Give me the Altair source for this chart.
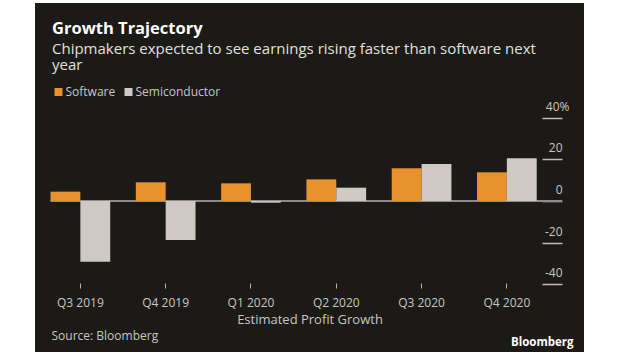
import altair as alt
import pandas as pd

# ---- data ----
quarters = ["Q3 2019", "Q4 2019", "Q1 2020", "Q2 2020", "Q3 2020", "Q4 2020"]
series_names = ["Software", "Semiconductor"]
software = [4.5, 9.0, 8.5, 10.4, 15.7, 13.8]
semiconductor = [-29.2, -18.7, -0.8, 6.4, 17.8, 20.5]
y_ticks = [-40, -20, 0, 20, 40]
series_colors = ["#E8912F", "#CEC9C3"]

rows = []
for q, s, c in zip(quarters, software, semiconductor):
    rows.append({"quarter": q, "series": "Software", "value": s})
    rows.append({"quarter": q, "series": "Semiconductor", "value": c})
df = pd.DataFrame(rows)

FONT = "Open Sans"
BG = "#1B1A17"
TXT = "#C8C6C2"

x_scale = alt.Scale(domain=quarters, paddingInner=0.3, paddingOuter=0.368, align=0.247)
y_scale = alt.Scale(domain=[-72.6, 95.2], nice=False, zero=False)

x_axis = alt.Axis(
    title="Estimated Profit Growth", labelAngle=0, offset=-69, domain=False, grid=False,
    tickSize=5, tickColor="#B4B2AE", tickWidth=1, labelPadding=9,
    labelFont=FONT, labelFontSize=12, labelColor=TXT,
    titleFont=FONT, titleFontSize=13, titleFontWeight="normal", titleColor=TXT,
    titleBaseline="alphabetic", titleY=40,
)

bars = alt.Chart(df).mark_bar().encode(
    x=alt.X("quarter:N", sort=quarters, scale=x_scale, axis=x_axis),
    xOffset=alt.XOffset("series:N", sort=series_names),
    y=alt.Y(
        "value:Q", scale=y_scale,
        axis=alt.Axis(
            orient="right", offset=-42, values=y_ticks, domain=False, grid=False,
            tickSize=20, tickColor="#BDBBB7", tickWidth=1.5,
            labelAlign="right", labelBaseline="alphabetic", labelOffset=-7.5,
            labelPadding=alt.condition("datum.value == 40", alt.value(7), alt.value(0)),
            labelExpr="datum.value == 40 ? '40%' : (datum.value < 0 ? '-' + abs(datum.value) : datum.label)",
            labelFont=FONT, labelFontSize=12, labelColor=TXT,
            title="Source: Bloomberg", titleAngle=0, titleX=-491, titleY=336,
            titleAlign="left", titleBaseline="alphabetic",
            titleFont=FONT, titleFontSize=12, titleFontWeight="normal", titleColor=TXT,
        ),
    ),
    color=alt.Color(
        "series:N", sort=series_names,
        scale=alt.Scale(domain=series_names, range=series_colors),
        legend=alt.Legend(
            orient="none", legendX=17.5, legendY=83, direction="horizontal", title=None,
            symbolType="square", symbolSize=64, symbolStrokeWidth=0, symbolOpacity=1,
            labelFont=FONT, labelFontSize=12, labelColor=TXT,
            columnPadding=7, labelOffset=1,
        ),
    ),
)

zero = alt.Chart(pd.DataFrame({"v": [0]})).mark_rule(color="#8E8C88", strokeWidth=2).encode(
    x=alt.XDatum("Q3 2019", type="nominal", bandPosition=0, axis=x_axis),
    x2=alt.value(527),
    y=alt.YDatum(
        0,
        axis=alt.Axis(
            orient="left", labels=False, ticks=False, domain=False, grid=False,
            title="Bloomberg", titleAngle=0, titleX=538, titleY=342,
            titleAlign="right", titleBaseline="alphabetic",
            titleFont=FONT, titleFontSize=11.5, titleFontWeight="bold", titleColor="#FFFFFF",
        ),
    ),
)

chart = (
    alt.layer(zero, bars)
    .resolve_axis(y="independent")
    .properties(
        width=549,
        height=349,
        background="white",
        padding={"left": 35, "top": 3, "right": 36, "bottom": 3},
        title=alt.TitleParams(
            text="Growth Trajectory",
            subtitle=["Chipmakers expected to see earnings rising faster than software next", "year"],
            anchor="start", frame="group", offset=-70, dx=17,
            font=FONT, fontSize=16.5, fontWeight="bold", color="#FFFFFF",
            subtitleFont=FONT, subtitleFontSize=15, subtitleColor="#E2E0DC",
            subtitlePadding=4, subtitleLineHeight=16.5,
        ),
    )
    .configure_view(fill=BG, stroke=None)
)

chart.save("out.html", embed_options={"renderer": "svg", "actions": False})
